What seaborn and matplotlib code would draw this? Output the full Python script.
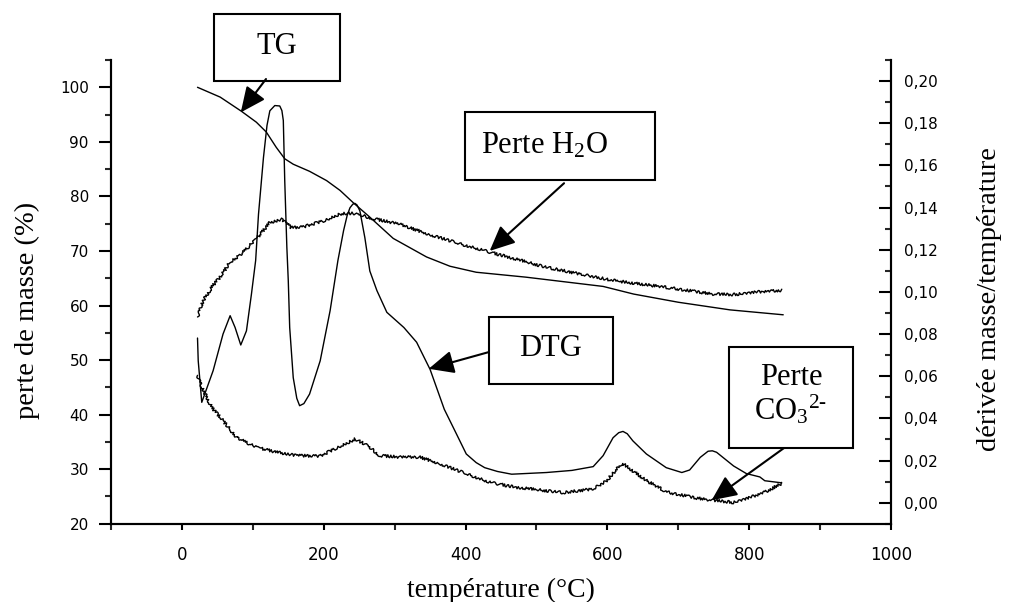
import pandas as pd
import matplotlib
matplotlib.use("Agg")
import matplotlib.pyplot as plt
import matplotlib.patches as mpatches
from matplotlib.ticker import MultipleLocator, FuncFormatter
import seaborn as sns

# courbe TG (perte de masse, %)
temp_tg = [22, 54, 84, 105, 119, 133, 145, 157, 180, 204, 223, 242, 265, 298,
           345, 378, 415, 485, 594, 637, 700, 773, 848]
tg = [100.0, 98.2, 95.6, 93.6, 91.8, 89.0, 86.9, 85.9, 84.6, 82.9, 81.1, 78.8,
      76.2, 72.3, 68.9, 67.2, 66.1, 65.2, 63.5, 62.1, 60.6, 59.2, 58.3]

# courbe DTG (dérivée masse/température, axe de droite)
temp_dtg = [22, 23, 28, 44, 58, 68, 75, 83, 91, 98, 104, 108, 115, 120, 124,
            131, 138, 141, 143, 145, 148, 150, 152, 157, 162, 166, 172, 180,
            195, 209, 220, 228, 233, 237, 241, 244, 247, 251, 258, 265, 275,
            289, 313, 331, 350, 370, 387, 401, 415, 427, 445, 465, 514, 550,
            580, 594, 608, 616, 622, 628, 636, 655, 683, 705, 716, 731, 742,
            748, 754, 778, 796, 815, 822, 834, 846]
dtg = [0.0781, 0.0673, 0.0476, 0.0626, 0.0800, 0.0887, 0.0831, 0.0748, 0.0815,
       0.0988, 0.1149, 0.1368, 0.1637, 0.1790, 0.1859, 0.1884, 0.1882, 0.1860,
       0.1813, 0.1529, 0.1211, 0.1053, 0.0831, 0.0593, 0.0495, 0.0460, 0.0470,
       0.0515, 0.0673, 0.0911, 0.1149, 0.1291, 0.1362, 0.1399, 0.1416, 0.1420,
       0.1412, 0.1384, 0.1257, 0.1099, 0.1006, 0.0903, 0.0831, 0.0761, 0.0632,
       0.0443, 0.0327, 0.0231, 0.0190, 0.0166, 0.0148, 0.0135, 0.0143, 0.0153,
       0.0171, 0.0223, 0.0308, 0.0332, 0.0338, 0.0327, 0.0293, 0.0231, 0.0166,
       0.0143, 0.0155, 0.0215, 0.0244, 0.0246, 0.0239, 0.0174, 0.0138, 0.0122,
       0.0104, 0.0099, 0.0094]

# signal perte H2O
temp_h2o = [22, 30, 44, 54, 68, 82, 105, 124, 141, 154, 171, 199, 223, 242, 268,
            307, 345, 392, 434, 477, 514, 608, 679, 749, 778, 820, 846]
h2o = [57.9, 60.9, 63.7, 65.2, 68.0, 69.2, 72.2, 75.2, 75.8, 74.3, 74.4, 75.5,
       76.8, 76.9, 76.0, 74.9, 73.2, 71.3, 69.8, 68.3, 67.0, 64.6, 63.4, 62.1,
       62.0, 62.6, 62.8]

# signal perte CO3 2-
temp_co3 = [22, 28, 35, 42, 58, 77, 105, 134, 162, 195, 218, 244, 260, 279, 308,
            336, 364, 402, 434, 470, 538, 580, 599, 613, 622, 636, 655, 684,
            726, 749, 778, 801, 825, 846]
co3 = [47.2, 45.0, 43.2, 41.3, 38.9, 35.8, 34.0, 33.1, 32.5, 32.4, 33.9, 35.5,
       34.5, 32.5, 32.2, 32.2, 31.0, 29.1, 27.6, 26.7, 25.7, 26.4, 27.9, 30.0,
       31.0, 29.7, 27.9, 25.8, 24.7, 24.3, 23.9, 24.8, 26.0, 27.4]

df_tg = pd.DataFrame({"T": temp_tg, "v": tg})
df_dtg = pd.DataFrame({"T": temp_dtg, "v": dtg})
df_h2o = pd.DataFrame({"T": temp_h2o, "v": h2o})
df_co3 = pd.DataFrame({"T": temp_co3, "v": co3})

sns.set_theme(style="ticks")
plt.rcParams["font.family"] = ["DejaVu Sans"]
plt.rcParams["mathtext.fontset"] = "custom"
plt.rcParams["mathtext.rm"] = "Liberation Serif"
plt.rcParams["mathtext.it"] = "Liberation Serif:italic"

fig = plt.figure(figsize=(10.1, 6.02), dpi=100)
ax = fig.add_axes([0.1099, 0.13, 0.7723, 0.7703])
ax2 = ax.twinx()

sns.lineplot(data=df_tg, x="T", y="v", ax=ax, color="black", lw=1.0,
             estimator=None, sort=False)
noisy = []
for d in (df_h2o, df_co3):
    sns.lineplot(data=d, x="T", y="v", ax=ax, color="black", lw=1.0,
                 estimator=None, sort=False)
    noisy.append(ax.lines[-1])
# signal bruité : rendu "tremblé" de la ligne
for ln in noisy:
    ln.set_sketch_params(scale=1.4, length=1.5, randomness=6)

sns.lineplot(data=df_dtg, x="T", y="v", ax=ax2, color="black", lw=1.0,
             estimator=None, sort=False)

# axes
ax.set_xlim(-100, 1000)
ax.set_ylim(20, 105)
ax2.set_ylim(-0.01, 0.21)
ax.set_facecolor("white")
for a in (ax, ax2):
    a.spines["top"].set_visible(False)
    for s in ("left", "right", "bottom"):
        a.spines[s].set_linewidth(1.5)
        a.spines[s].set_color("black")
    a.grid(False)

ax.xaxis.set_major_locator(MultipleLocator(200))
ax.xaxis.set_minor_locator(MultipleLocator(100))
ax.yaxis.set_major_locator(MultipleLocator(10))
ax.yaxis.set_minor_locator(MultipleLocator(5))
ax2.yaxis.set_major_locator(MultipleLocator(0.02))
ax2.yaxis.set_minor_locator(MultipleLocator(0.01))
ax2.yaxis.set_major_formatter(FuncFormatter(lambda v, p: f"{v:.2f}".replace(".", ",").replace("-0,00", "0,00")))

ax.tick_params(axis="x", which="major", direction="out", length=4, width=1.5,
               labelsize=12, pad=12, colors="black")
ax.tick_params(axis="x", which="minor", direction="out", length=4, width=1.5)
ax.tick_params(axis="y", which="major", direction="out", length=9, width=1.5,
               labelsize=11, pad=7, colors="black")
ax.tick_params(axis="y", which="minor", direction="out", length=4.5, width=1.5)
ax2.tick_params(axis="y", which="major", direction="in", length=9, width=1.5,
                labelsize=11, pad=9, colors="black")
ax2.tick_params(axis="y", which="minor", direction="in", length=4.5, width=1.5)

ax.set_xlabel("température (°C)", family="Liberation Serif", fontsize=20,
              color="black")
ax.set_ylabel("perte de masse (%)", family="Liberation Serif", fontsize=20.5,
              color="black")
ax2.set_ylabel("dérivée masse/température", family="Liberation Serif",
               fontsize=20.5, color="black")
ax.xaxis.set_label_coords(0.5, -0.116)
ax.yaxis.set_label_coords(-0.091, 0.461)
ax2.yaxis.set_label_coords(1.110, 0.485)

# boîtes d'annotation (coordonnées en fraction d'axes)
boites = [
    ("TG", 0.132, 0.9547, 0.2936, 1.099, 0.213, 1.030, 0.1987, 0.959, 83, 95.4),
    ("Perte H$_2$O", 0.4538, 0.7412, 0.6974, 0.8879, 0.5551, 0.815, 0.5808, 0.7343, 434, 70.0),
    ("DTG", 0.4846, 0.3013, 0.6436, 0.4458, 0.564, 0.378, 0.4846, 0.3703, 348, 48.4),
    ("Perte\nCO$_3$$^{\\text{2-}}$", 0.7923, 0.1633, 0.9513, 0.3811, 0.8718, 0.278, 0.8628, 0.1633, 747, 24.3),
]
for txt, x0, y0, x1, y1, tx, ty, ax_x, ax_y, px, py in boites:
    rect = mpatches.Rectangle((x0, y0), x1 - x0, y1 - y0, transform=ax2.transAxes,
                              facecolor="white", edgecolor="black", lw=1.5,
                              clip_on=False, zorder=5)
    ax2.add_patch(rect)
    ax2.text(tx, ty, txt, transform=ax2.transAxes, ha="center", va="center",
             family="Liberation Serif", fontsize=22, color="black", zorder=6,
             linespacing=1.0)
    ax2.annotate("", xy=(px, py), xycoords=ax.transData,
                 xytext=(ax_x, ax_y), textcoords=ax2.transAxes,
                 arrowprops=dict(arrowstyle="-|>,head_length=0.7,head_width=0.32",
                                 color="black", lw=1.5,
                                 mutation_scale=22, shrinkA=0, shrinkB=0),
                 zorder=6, annotation_clip=False)

fig.savefig("out.png", dpi=100, facecolor="white")
plt.close()
